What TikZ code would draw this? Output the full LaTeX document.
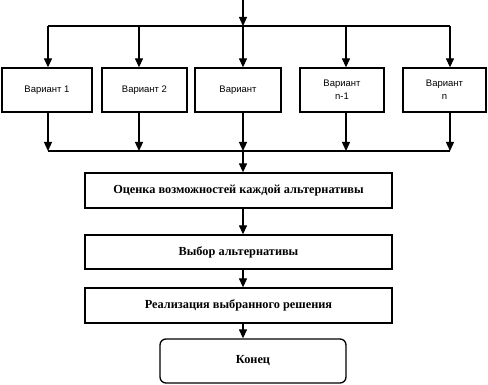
\documentclass[tikz,border=0pt]{standalone}
\usepackage{fontspec}
\setmainfont{Liberation Serif}
\newfontfamily\varfont{Liberation Sans}
\usetikzlibrary{arrows.meta}
\begin{document}
\begin{tikzpicture}[x=1pt,y=-1pt,
  line width=1.3pt,
  arr/.style={-{Triangle[length=9pt,width=8pt]}},
  varbox/.style={draw, inner sep=0pt, align=center, font=\varfont\fontsize{9.5}{13}\selectfont},
  mainbox/.style={draw, inner sep=0pt, minimum width=307pt, minimum height=35pt, font=\bfseries\fontsize{12.3}{14}\selectfont},
]
\useasboundingbox (0,0) rectangle (488,385);
% variant boxes
\node[varbox, minimum width=90pt, minimum height=44pt] (v1) at (47,90) {Вариант 1};
\node[varbox, minimum width=85pt, minimum height=44pt] (v2) at (144.5,90) {Вариант 2};
\node[varbox, minimum width=86pt, minimum height=44pt] (v3) at (238,90) {Вариант};
\node[varbox, minimum width=84pt, minimum height=44pt] (v4) at (342,90) {Вариант\\n-1};
\node[varbox, minimum width=83pt, minimum height=44pt] (v5) at (444.5,90) {Вариант\\n};
% main boxes
\node[mainbox] (b1) at (238.5,190.5) {Оценка возможностей каждой альтернативы};
\node[mainbox, minimum height=34pt] (b2) at (238.5,252) {Выбор альтернативы};
\node[mainbox] (b3) at (238.5,305.5) {Реализация выбранного решения};
\node[draw, rounded corners=6pt, inner sep=0pt, minimum width=186pt, minimum height=44pt, font=\bfseries\fontsize{12.3}{14}\selectfont] (b4) at (253,361) {Конец};
% coordinates
\coordinate (s) at (243,0);
\coordinate (top) at (243,26);
\coordinate (tl) at (48,26);
\coordinate (tr) at (450,26);
\coordinate (t1) at (48,26);
\coordinate (t2) at (139,26);
\coordinate (t3) at (243,26);
\coordinate (t4) at (346,26);
\coordinate (t5) at (450,26);
\coordinate (d1) at (48,151);
\coordinate (d2) at (139,151);
\coordinate (d3) at (243,151);
\coordinate (d4) at (346,151);
\coordinate (d5) at (450,151);
% top
\draw[arr] (s) -- (top);
\draw (tl) -- (tr);
\foreach \i in {1,...,5} {
  \draw[arr] (t\i) -- (t\i |- v\i.north);
  \draw[arr] (t\i |- v\i.south) -- (d\i);
}
\draw (d1) -- (d5);
\draw[arr] (d3) -- (d3 |- b1.north);
\draw[arr] (d3 |- b1.south) -- (d3 |- b2.north);
\draw[arr] (d3 |- b2.south) -- (d3 |- b3.north);
\draw[arr] (d3 |- b3.south) -- (d3 |- b4.north);
\end{tikzpicture}
\end{document}
